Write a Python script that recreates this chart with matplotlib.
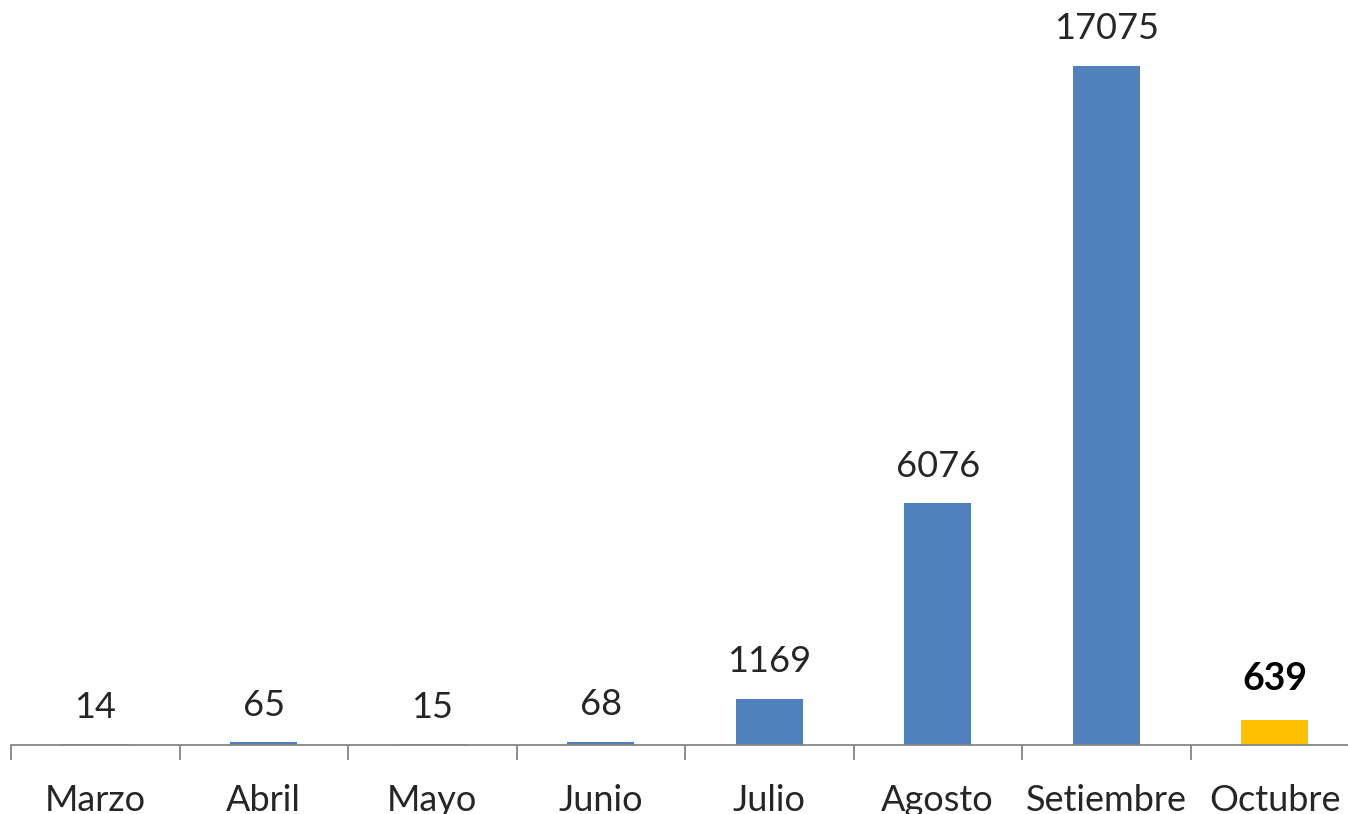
import matplotlib.pyplot as plt
import numpy as np

plt.rcParams['font.family'] = ['Lato', 'DejaVu Sans']

meses = ["Marzo", "Abril", "Mayo", "Junio", "Julio", "Agosto", "Setiembre", "Octubre"]
casos = [14, 65, 15, 68, 1169, 6076, 17075, 639]
colores = ["#4F81BD"] * 7 + ["#FFC000"]

fig = plt.figure(figsize=(13.48, 8.14), dpi=100)
# el eje se sale un poco por la derecha, como en la original
ax = fig.add_axes([11 / 1348, 69 / 814, 1348 / 1348, 745 / 814])

x = np.arange(len(meses))
ax.bar(x, casos, width=0.4, color=colores)

ax.set_xlim(-0.5, len(meses) - 0.5)
ax.set_ylim(0, 18733)

for i, v in enumerate(casos):
    bold = i == len(casos) - 1
    ax.annotate(str(v), (x[i], v), xytext=(0, 15 if not bold else 17), textcoords="offset points",
                ha="center", va="bottom", fontsize=26 if not bold else 27,
                fontweight="bold" if bold else "normal",
                color="black" if bold else "#262626")

ax.set_xticks(x)
ax.set_xticklabels(meses, fontsize=26, color="#262626")
ax.set_xticks(np.arange(-0.5, len(meses) + 0.5), minor=True)
ax.tick_params(axis="x", which="major", length=0, pad=28)
ax.tick_params(axis="x", which="minor", length=11, width=1.3, color="#868686")
ax.set_yticks([])

for s in ["top", "right", "left"]:
    ax.spines[s].set_visible(False)
ax.spines["bottom"].set_color("#868686")
ax.spines["bottom"].set_linewidth(1.3)

fig.savefig("out.png", dpi=100)
